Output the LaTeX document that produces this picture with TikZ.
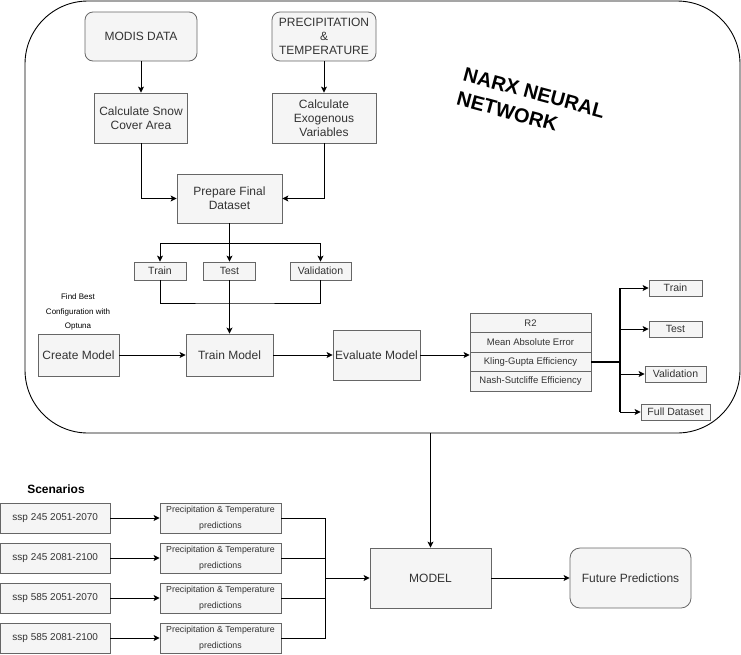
\documentclass[tikz,border=0pt]{standalone}
\usepackage{fontspec}
\setmainfont{Liberation Sans}
\usetikzlibrary{arrows.meta,calc}
\definecolor{fillgray}{HTML}{F5F5F5}
\definecolor{strokegray}{HTML}{666666}
\definecolor{textgray}{HTML}{333333}
\tikzset{
  box/.style={draw=strokegray, fill=fillgray, text=textgray, line width=0.8pt, inner sep=0pt, align=center, font=\fontsize{12}{14}\selectfont},
  rbox/.style={box, rounded corners=8pt},
  small/.style={font=\fontsize{10.5}{12}\selectfont},
  metric/.style={box, minimum width=121, minimum height=19.5, font=\fontsize{9.5}{11}\selectfont},
  ptbox/.style={box, minimum width=121, minimum height=30, font=\fontsize{8.8}{15.5}\selectfont},
  sspbox/.style={box, minimum width=109.5, minimum height=30, font=\fontsize{10}{12}\selectfont},
  arr/.style={draw=black, line width=0.9pt, -{Stealth[length=6pt,width=6pt,inset=1.5pt]}},
  ln/.style={draw=black, line width=0.9pt},
}
\begin{document}
\begin{tikzpicture}[x=1pt,y=-1pt]
\useasboundingbox (0,0) rectangle (741,654);

% frame
\node[draw=black, line width=0.9pt, rounded corners=63pt, minimum width=715, minimum height=432, inner sep=0pt] (frame) at (382.5,217) {};

\node[rotate=-15, align=left, inner sep=0pt, font=\bfseries\fontsize{20}{25}\selectfont] (narx) at (531,105) {NARX NEURAL\\NETWORK};

% top nodes
\node[rbox, minimum width=112, minimum height=49] (modis) at (141,36.5) {MODIS DATA};
\node[rbox, minimum width=104, minimum height=49] (precip) at (324,36.5) {PRECIPITATION\\\&\\TEMPERATURE};
\node[box, minimum width=93, minimum height=50] (snow) at (141,118) {Calculate Snow\\Cover Area};
\node[box, minimum width=104, minimum height=50] (exo) at (324,118) {Calculate\\Exogenous\\Variables};
\node[box, minimum width=105, minimum height=49] (prep) at (229.5,198.5) {Prepare Final\\Dataset};

\node[box, small, minimum width=52, minimum height=18] (train1) at (160,271) {Train};
\node[box, small, minimum width=52, minimum height=18] (test1) at (229.5,271) {Test};
\node[box, small, minimum width=61, minimum height=18] (valid1) at (320.5,271) {Validation};

\node[align=center, font=\fontsize{8}{14.5}\selectfont, text=black] (optuna) at (78,312) {Find Best\\Configuration with\\Optuna};

\node[box, minimum width=81, minimum height=42] (create) at (78.5,355) {Create Model};
\node[box, minimum width=87, minimum height=42] (trainm) at (229.5,355) {Train Model};
\node[box, minimum width=87, minimum height=50] (evalm) at (376.5,355) {Evaluate Model};

\node[metric] (r2) at (530.5,322.75) {R2};
\node[metric] (mae) at (530.5,342.25) {Mean Absolute Error};
\node[metric] (kge) at (530.5,361.75) {Kling-Gupta Efficiency};
\node[metric] (nse) at (530.5,381.25) {Nash-Sutcliffe Efficiency};

\node[box, small, minimum width=53, minimum height=16] (rtrain) at (675.5,288) {Train};
\node[box, small, minimum width=53, minimum height=16] (rtest) at (675.5,329) {Test};
\node[box, small, minimum width=61, minimum height=16] (rvalid) at (675.5,374) {Validation};
\node[box, small, minimum width=69, minimum height=16] (rfull) at (675.5,412) {Full Dataset};

% bottom part
\node[font=\bfseries\fontsize{12}{14}\selectfont] (scen) at (56,489) {Scenarios};
\node[sspbox] (s1) at (55.25,518) {ssp 245 2051-2070};
\node[sspbox] (s2) at (55.25,558) {ssp 245 2081-2100};
\node[sspbox] (s3) at (55.25,598) {ssp 585 2051-2070};
\node[sspbox] (s4) at (55.25,638) {ssp 585 2081-2100};
\node[ptbox] (p1) at (220.5,518) {Precipitation \& Temperature\\predictions};
\node[ptbox] (p2) at (220.5,558) {Precipitation \& Temperature\\predictions};
\node[ptbox] (p3) at (220.5,598) {Precipitation \& Temperature\\predictions};
\node[ptbox] (p4) at (220.5,638) {Precipitation \& Temperature\\predictions};

\node[box, minimum width=121, minimum height=60] (model) at (430.5,578) {MODEL};
\node[box, rounded corners=10pt, minimum width=121, minimum height=60] (future) at (630.5,578) {Future Predictions};

% coordinates
\coordinate (split) at (229.5,243);
\coordinate (merge) at (229.5,303);
\coordinate (hub) at (620,361.75);
\coordinate (join) at (325,578);

% connectors top
\draw[arr] (modis.south) -- (snow.north);
\draw[arr] (precip.south) -- (exo.north);
\draw[arr] (snow.south) |- (prep.west);
\draw[arr] (exo.south) |- (prep.east);
\draw[ln, line width=1.2pt] (prep.south) -- (split);
\draw[arr] (split) -- (test1.north);
\draw[arr] (split) -| (train1.north);
\draw[arr] (split) -| (valid1.north);
\draw[ln] (train1.south) |- (merge) -| (valid1.south);
\draw[arr, line width=1.2pt] (test1.south) -- (trainm.north);
\draw[arr] (create.east) -- (trainm.west);
\draw[arr] (trainm.east) -- (evalm.west);
\draw[arr] (evalm.east) -- (evalm.east -| kge.west);
\draw[ln, line width=1.6pt] (kge.east) -- (hub);
\draw[ln, line width=1.2pt] (hub |- rtrain.west) -- (hub |- rfull.west);
\draw[arr] (hub) |- (rtrain.west);
\draw[arr] (hub) |- (rtest.west);
\draw[arr] (hub) |- (rvalid.west);
\draw[arr] (hub) |- (rfull.west);

% connectors bottom
\draw[arr] (frame.south -| model.north) -- (model.north);
\draw[arr] (s1.east) -- (p1.west);
\draw[arr] (s2.east) -- (p2.west);
\draw[arr] (s3.east) -- (p3.west);
\draw[arr] (s4.east) -- (p4.west);
\draw[ln] (p1.east) -| (join);
\draw[ln] (p2.east) -| (join);
\draw[ln] (p3.east) -| (join);
\draw[ln] (p4.east) -| (join);
\draw[arr] (join) -- (model.west);
\draw[arr] (model.east) -- (future.west);
\end{tikzpicture}
\end{document}
